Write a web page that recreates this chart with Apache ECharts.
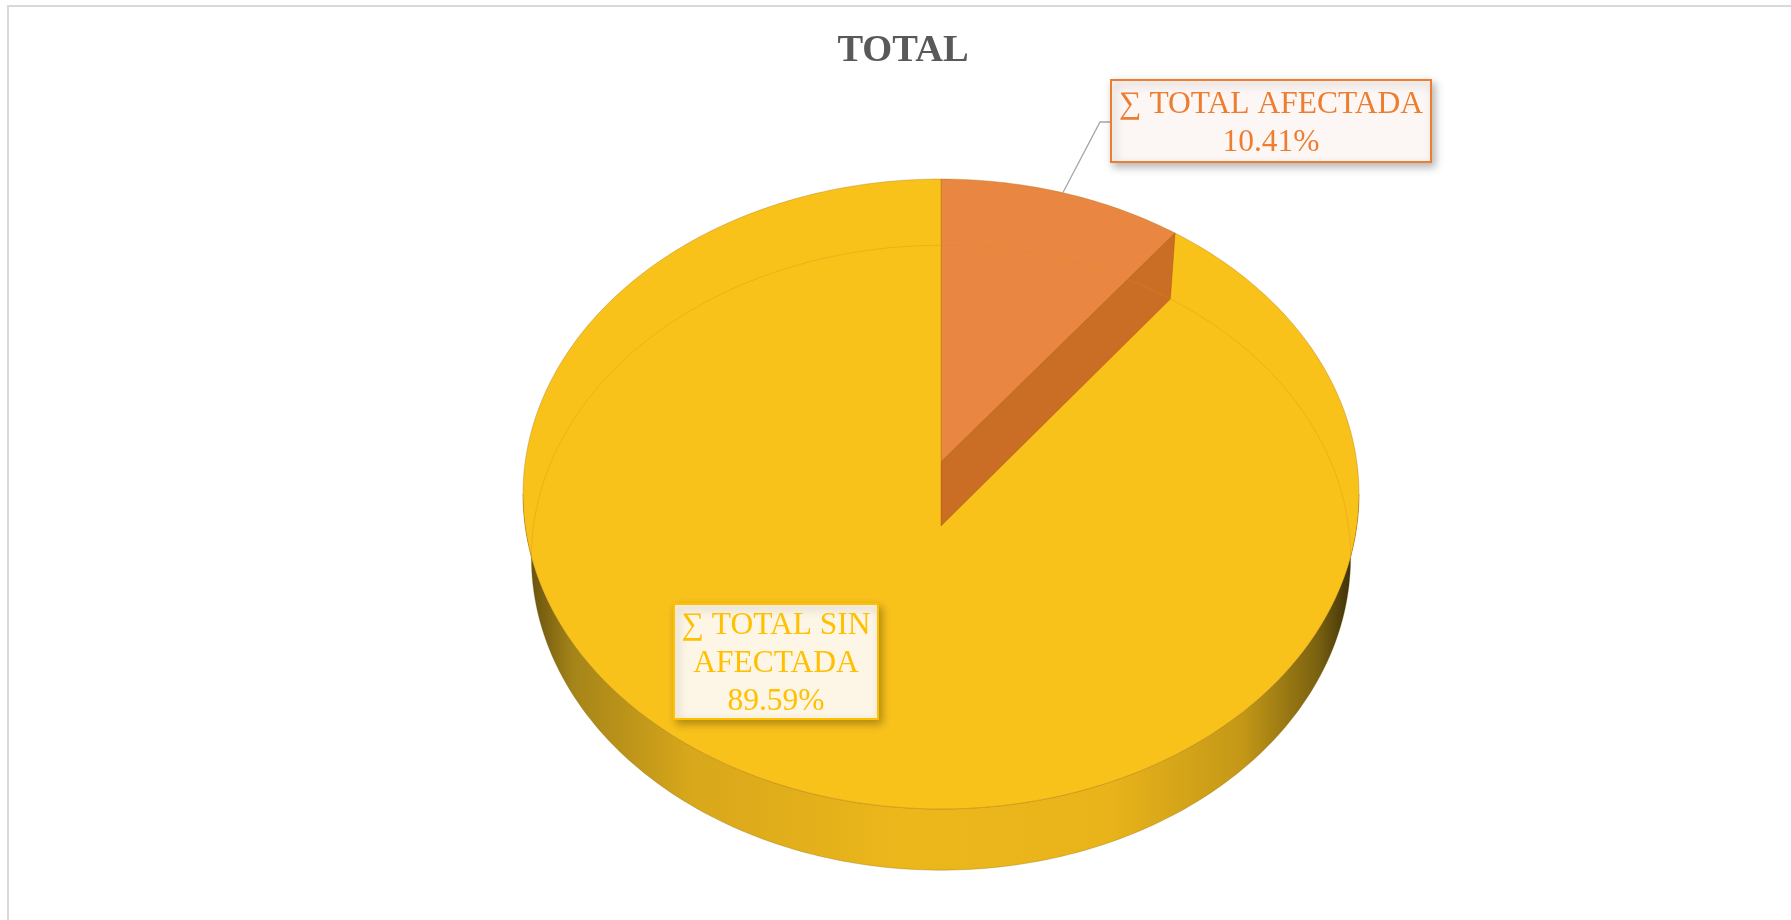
<!DOCTYPE html>
<html>
<head>
<meta charset="utf-8">
<title>TOTAL</title>
<script src="https://cdn.jsdelivr.net/npm/echarts@6/dist/echarts.min.js"></script>
<style>
  html, body { margin: 0; padding: 0; background: #ffffff; }
  #chart { width: 1791px; height: 920px; }
</style>
</head>
<body>
<div id="chart"></div>
<script>
// ---- data ----
const categories = ['∑ TOTAL AFECTADA', '∑ TOTAL SIN AFECTADA'];
const shares = [10.41, 89.59];
const titleText = 'TOTAL';

// ---- styling ----
const topColors  = ['#E98642', '#F9C21B'];
const wallColors = ['#C96E24', '#D9A51A'];
const labelTextColors = ['#ED7D31', '#FFC000'];
const labelFillColors = ['#FCF7F4', '#FDF6E7'];
const LABEL_FONT = '31.5px "Liberation Serif", "Times New Roman", serif';

// label boxes (pixel layout), text wrap width and whether a leader line is drawn
const labelLayout = [
  { x: 1111, y: 80,  w: 320, h: 82,  dy: 3, wrap: 0,   leader: true  },
  { x: 674,  y: 604, w: 204, h: 115, dy: 2, wrap: 202, leader: false }
];

// ---- 3D pie projection ----
const CX = 941, CY = 462;      // projected centre of the top face
const RX = 415.8, RY = 311.7;  // radii of the tilted disc (top face)
const RX_BOTTOM = RX * 0.98;   // bottom face sits further from the eye
const RY_BOTTOM = RY - 2.5;
const PERSP = 0.1016;          // perspective foreshortening
const DEPTH = 64;              // thickness of the disc
const SIDE_A = Math.acos(-PERSP) * 180 / Math.PI;  // silhouette angle

function proj(deg, r, bottom) {
  const t = deg * Math.PI / 180;
  const u = r * Math.sin(t), v = r * Math.cos(t);
  const w = 1 + PERSP * v;
  const rx = bottom ? RX_BOTTOM : RX, ry = bottom ? RY_BOTTOM : RY;
  return [CX + rx * u / w, CY - ry * v / w + (bottom ? DEPTH : 0)];
}
function arc(a, b, bottom) {
  const pts = [];
  const n = Math.max(2, Math.ceil(Math.abs(b - a)));
  for (let i = 0; i <= n; i++) pts.push(proj(a + (b - a) * i / n, 1, bottom));
  return pts;
}

// word wrap without leaving stray spaces at line starts
const measureCtx = document.createElement('canvas').getContext('2d');
function wrapWords(str, font, maxWidth) {
  if (!maxWidth) return str;
  measureCtx.font = font;
  const words = str.split(' ');
  const lines = [];
  let line = '';
  words.forEach(w => {
    const test = line ? line + ' ' + w : w;
    if (line && measureCtx.measureText(test).width > maxWidth) {
      lines.push(line);
      line = w;
    } else {
      line = test;
    }
  });
  if (line) lines.push(line);
  return lines.join('\n');
}

const total = shares.reduce((s, v) => s + v, 0);

function renderItem(params, api) {
  const i = params.dataIndex;
  const value = api.value(0);
  let before = 0;
  for (let j = 0; j < i; j++) before += shares[j];
  const a = before / total * 360;
  const b = (before + value) / total * 360;
  const children = [];

  // outer side wall (front, visible part)
  const s = Math.max(a, SIDE_A), e = Math.min(b, 360 - SIDE_A);
  if (e > s) {
    const pts = arc(s, e, false).concat(arc(e, s, true));
    children.push({
      type: 'polygon', z2: 1,
      shape: { points: pts },
      style: {
        fill: {
          type: 'linear', x: 0, y: 0, x2: 1, y2: 0, global: false,
          colorStops: [
            { offset: 0.00, color: '#5e4a0c' },
            { offset: 0.06, color: '#a58418' },
            { offset: 0.20, color: '#d8a71b' },
            { offset: 0.45, color: '#ecb71b' },
            { offset: 0.70, color: '#e9b41a' },
            { offset: 0.86, color: '#c49817' },
            { offset: 0.95, color: '#7b6210' },
            { offset: 1.00, color: '#2e2506' }
          ]
        },
        stroke: 'rgba(120,90,0,0.35)', lineWidth: 0.8
      }
    });
  }

  // top face
  const topPts = [proj(0, 0, false)].concat(arc(a, b, false));
  children.push({
    type: 'polygon', z2: 5,
    shape: { points: topPts },
    style: { fill: topColors[i], stroke: 'rgba(170,110,0,0.45)', lineWidth: 0.8 }
  });

  // radial cut walls facing the viewer
  [[b, Math.sin(b * Math.PI / 180) > 1e-6], [a, Math.sin(a * Math.PI / 180) < -1e-6]].forEach(([ang, vis]) => {
    if (!vis) return;
    children.push({
      type: 'polygon', z2: 10,
      shape: { points: [proj(ang, 0, false), proj(ang, 1, false), proj(ang, 1, true), proj(ang, 0, true)] },
      style: { fill: wallColors[i], stroke: 'rgba(150,70,10,0.4)', lineWidth: 0.8 }
    });
  });

  // faint rim of the disc bottom seen through the top
  [[0, SIDE_A], [360 - SIDE_A, 360]].forEach(([r0, r1]) => {
    const s2 = Math.max(a, r0), e2 = Math.min(b, r1);
    if (e2 > s2) {
      children.push({
        type: 'polyline', z2: 20, silent: true,
        shape: { points: arc(s2, e2, true) },
        style: { fill: null, stroke: 'rgba(220,140,20,0.35)', lineWidth: 1 }
      });
    }
  });

  // data label
  const box = labelLayout[i];
  const pct = (value / total * 100).toFixed(2) + '%';
  if (box.leader) {
    const midY = box.y + box.h / 2 + 1;
    children.push({
      type: 'polyline', z2: 30,
      shape: { points: [[box.x, midY], [box.x - 11, midY], proj((a + b) / 2, 1, false)] },
      style: { fill: null, stroke: '#A6A6A6', lineWidth: 1.3 }
    });
  }
  children.push({
    type: 'rect', z2: 40,
    shape: { x: box.x, y: box.y, width: box.w, height: box.h },
    style: {
      fill: labelFillColors[i], stroke: labelTextColors[i], lineWidth: 2,
      shadowBlur: 8, shadowOffsetX: 3, shadowOffsetY: 4, shadowColor: 'rgba(0,0,0,0.28)'
    }
  });
  children.push({
    type: 'text', z2: 50,
    x: box.x + box.w / 2, y: box.y + box.h / 2 + box.dy,
    style: {
      text: wrapWords(categories[i], LABEL_FONT, box.wrap) + '\n' + pct,
      fill: labelTextColors[i],
      font: LABEL_FONT,
      align: 'center', verticalAlign: 'middle',
      lineHeight: 38
    }
  });

  return { type: 'group', children: children };
}

const chart = echarts.init(document.getElementById('chart'), null, { renderer: 'canvas' });
chart.setOption({
  backgroundColor: '#ffffff',
  animation: false,
  title: {
    text: titleText,
    left: 898, top: 27, textAlign: 'center',
    textStyle: {
      fontFamily: '"Liberation Serif", "Times New Roman", serif',
      fontWeight: 'bold', fontSize: 38.5, color: '#595959'
    }
  },
  graphic: [{
    type: 'rect', silent: true, z: -1,
    shape: { x: 8, y: 6, width: 1800, height: 930 },
    style: { fill: null, stroke: '#D9D9D9', lineWidth: 2 }
  }],
  series: [{
    type: 'custom',
    coordinateSystem: 'none',
    renderItem: renderItem,
    data: shares.map((v, i) => ({ name: categories[i], value: v }))
  }]
});
</script>
</body>
</html>
